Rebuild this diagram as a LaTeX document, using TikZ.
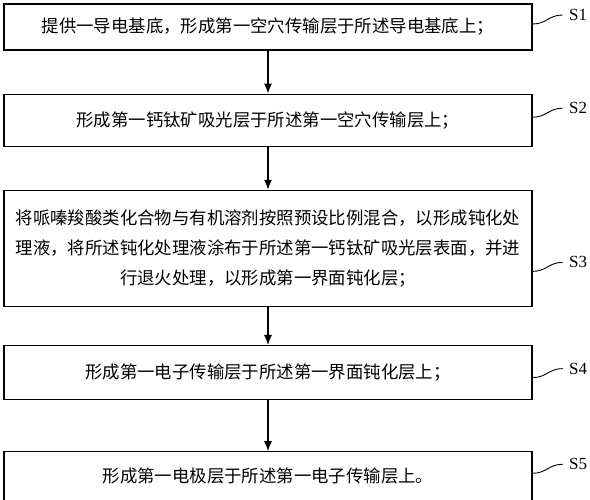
\documentclass[tikz,border=0pt]{standalone}
\usepackage{fontspec}
\setmainfont{Liberation Serif}
\newfontfamily\cjk{Noto Sans CJK SC}
\usetikzlibrary{
arrows.meta,
positioning
}
\tikzset{>={Latex[length=10pt,width=8pt]}}
\tikzset{
	stepbox/.style={draw,line width=1.2pt,minimum width=528pt,text width=520pt,inner sep=0pt,align=center,font=\cjk\fontsize{17.4}{30}\selectfont},
	steplabel/.style={anchor=west,inner sep=0pt,inner xsep=6pt,font=\fontsize{17}{20}\selectfont},
	wave/.style={line width=0.9pt}
}

\begin{document}
\begin{tikzpicture}[line width=1.2pt]
	\useasboundingbox (0,0) rectangle (590pt,-500pt);
	\node[stepbox,minimum height=46pt] (s1) at (268pt,-27pt) {提供一导电基底，形成第一空穴传输层于所述导电基底上；};
	\node[stepbox,minimum height=52pt,below=43pt of s1] (s2) {形成第一钙钛矿吸光层于所述第一空穴传输层上；};
	\node[stepbox,minimum height=116pt,below=43pt of s2] (s3) {将哌嗪羧酸类化合物与有机溶剂按照预设比例混合，以形成钝化处\\理液，将所述钝化处理液涂布于所述第一钙钛矿吸光层表面，并进\\行退火处理，以形成第一界面钝化层；};
	\node[stepbox,minimum height=54pt,below=38pt of s3] (s4) {形成第一电子传输层于所述第一界面钝化层上；};
	\node[stepbox,minimum height=49pt,below=51pt of s4] (s5) {形成第一电极层于所述第一电子传输层上。};
	
	\draw[->] (s1) -- (s2);
	\draw[->] (s2) -- (s3);
	\draw[->] (s3) -- (s4);
	\draw[->] (s4) -- (s5);
	
	% step labels
	\coordinate (w1) at ([yshift=3pt]s1.east);
	\coordinate (w2) at ([yshift=3pt]s2.east);
	\coordinate (w3) at ([yshift=-23pt]s3.east);
	\coordinate (w4) at ([yshift=-5pt]s4.east);
	\coordinate (w5) at ([yshift=3pt]s5.east);
	\node[steplabel] (l1) at ([xshift=30pt,yshift=9pt]w1) {S1};
	\node[steplabel] (l2) at ([xshift=30pt,yshift=9pt]w2) {S2};
	\node[steplabel] (l3) at ([xshift=30pt,yshift=9pt]w3) {S3};
	\node[steplabel] (l4) at ([xshift=30pt,yshift=9pt]w4) {S4};
	\node[steplabel] (l5) at ([xshift=30pt,yshift=9pt]w5) {S5};
	\draw[wave] (w1) .. controls +(14pt,0) and +(-14pt,0) .. (l1.west);
	\draw[wave] (w2) .. controls +(14pt,0) and +(-14pt,0) .. (l2.west);
	\draw[wave] (w3) .. controls +(14pt,0) and +(-14pt,0) .. (l3.west);
	\draw[wave] (w4) .. controls +(14pt,0) and +(-14pt,0) .. (l4.west);
	\draw[wave] (w5) .. controls +(14pt,0) and +(-14pt,0) .. (l5.west);
\end{tikzpicture}
\end{document}
